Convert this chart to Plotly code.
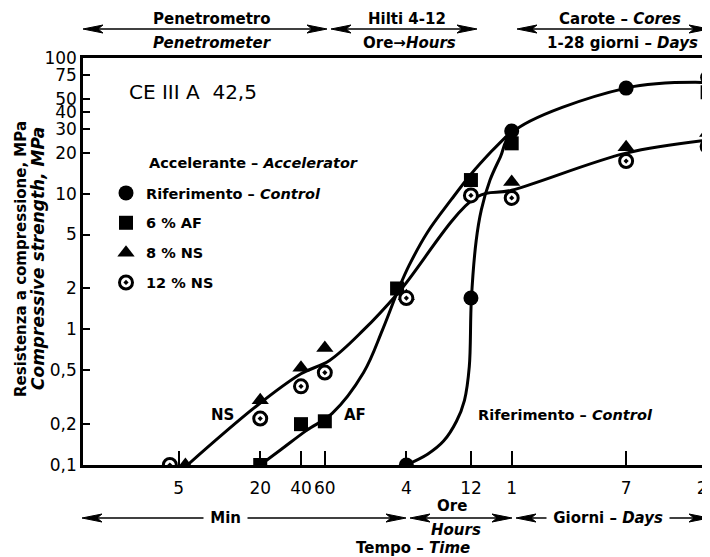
import plotly.graph_objects as go

# ---------------- data (time in minutes, strength in MPa) ----------------
tick_minutes = [5, 20, 40, 60, 240, 720, 1440, 10080, 40320]
tick_text = ["5", "20", "40", "60", "4", "12", "1", "7", "28"]
y_ticks = [0.1, 0.2, 0.5, 1, 2, 5, 10, 20, 30, 40, 50, 75, 100]
y_tick_text = ["0,1", "0,2", "0,5", "1", "2", "5", "10", "20", "30", "40", "50", "75", "100"]

ctrl_t = [240, 720, 1440, 10080, 40320]
ctrl_v = [0.1, 1.7, 29, 60, 72]
af_t = [20, 40, 60, 205, 720, 1440, 40320]
af_v = [0.1, 0.2, 0.21, 2.0, 12.6, 23.5, 56]
ns8_t = [5.6, 20, 40, 60, 240, 1440, 10080, 40320]
ns8_v = [0.1, 0.30, 0.52, 0.73, 1.75, 12.2, 22, 28]
ns12_t = [4.3, 20, 40, 60, 240, 720, 1440, 10080, 40320]
ns12_v = [0.1, 0.22, 0.38, 0.48, 1.7, 9.7, 9.3, 17.4, 22.3]

# fitted curves as drawn in the figure
ctrl_curve_t = [240, 344, 452, 563, 645, 700, 725, 787, 859, 996, 1189, 1440, 10080, 40320]
ctrl_curve_v = [0.1, 0.12, 0.15, 0.21, 0.30, 0.53, 1.65, 4.5, 7.6, 12.6, 18.7, 28, 60, 66]
af_curve_t = [20, 28.5, 44, 68, 116, 160, 211, 252, 344, 518, 720, 1026, 1440]
af_curve_v = [0.1, 0.13, 0.18, 0.24, 0.48, 0.99, 2.0, 2.97, 5.2, 9.1, 13.9, 20.6, 28.9]
ns_curve_t = [5.8, 18.6, 40, 65, 116, 211, 787, 1440, 10080, 40320]
ns_curve_v = [0.1, 0.27, 0.47, 0.59, 0.99, 1.88, 9.4, 10.6, 19.9, 24.8]

FONT = "DejaVu Sans"
OFF = 8                      # the page places the figure 8 px from the window corner
W, H = 710 - OFF, 557 - OFF
L, R, T, B = 83 - OFF, 0, 58 - OFF, 92
PW, PH = W - L - R, H - T - B


def PX(px):
    return (px - OFF - L) / PW


def PY(py):
    return (H - B - (py - OFF)) / PH


fig = go.Figure()

for ct, cv in [(ctrl_curve_t, ctrl_curve_v), (af_curve_t, af_curve_v), (ns_curve_t, ns_curve_v)]:
    fig.add_trace(go.Scatter(x=ct, y=cv, mode="lines", showlegend=False,
                             line=dict(color="black", width=3, shape="spline", smoothing=1.0),
                             hoverinfo="skip"))

fig.add_trace(go.Scatter(x=ctrl_t, y=ctrl_v, mode="markers", name="<b>Riferimento – <i>Control</i></b>",
                         legendgroup="a", marker=dict(symbol="circle", size=15, color="black")))
fig.add_trace(go.Scatter(x=af_t, y=af_v, mode="markers", name="<b>6 % AF</b>",
                         legendgroup="b", marker=dict(symbol="square", size=14, color="black")))
fig.add_trace(go.Scatter(x=ns8_t, y=ns8_v, mode="markers", name="<b>8 % NS</b>",
                         legendgroup="c", marker=dict(symbol="triangle-up", size=15, color="black")))
fig.add_trace(go.Scatter(x=ns12_t, y=ns12_v, mode="markers", name="<b>12 % NS</b>",
                         legendgroup="d", marker=dict(symbol="circle-dot", size=13, color="white",
                                                      line=dict(color="black", width=3))))

shapes = []
annotations = []


def text(px, py, s, size=15, xanchor="center", bold=True, bg=None, angle=0):
    if bold:
        s = "<b>" + s + "</b>"
    d = dict(x=PX(px), y=PY(py), xref="paper", yref="paper", text=s, showarrow=False,
             xanchor=xanchor, yanchor="middle", textangle=angle,
             font=dict(family=FONT, size=size, color="black"))
    if bg:
        d["bgcolor"] = bg
    annotations.append(d)


def head(tip, y, direction):
    # direction +1: head pointing left (body to the right), -1: pointing right
    Lh, hw = 20, 4
    path = (f"M {PX(tip)},{PY(y)} L {PX(tip + direction * Lh)},{PY(y - hw)} "
            f"L {PX(tip + direction * (Lh - 5))},{PY(y)} L {PX(tip + direction * Lh)},{PY(y + hw)} Z")
    shapes.append(dict(type="path", path=path, xref="paper", yref="paper",
                       fillcolor="black", line=dict(color="black", width=1)))


def double_arrow(x0, x1, y):
    shapes.append(dict(type="line", xref="paper", yref="paper", x0=PX(x0 + 5), x1=PX(x1 - 5),
                       y0=PY(y), y1=PY(y), line=dict(color="black", width=1.5)))
    head(x0, y, 1)
    head(x1, y, -1)


# top arrows
double_arrow(83, 327, 29)
double_arrow(331, 477, 29)
double_arrow(517, 709, 29)
text(212, 19, "Penetrometro")
text(212, 43, "<i>Penetrometer</i>")
text(407, 19, "Hilti 4-12")
text(410, 43, "Ore→<i>Hours</i>")
text(620, 19, "Carote – <i>Cores</i>")
text(622, 43, "1-28 giorni – <i>Days</i>")

# bottom arrows
double_arrow(82, 406, 518)
double_arrow(410, 512, 518)
double_arrow(516, 709, 518)
text(225, 518, " Min ", bg="white")
text(452, 506, "Ore")
text(456, 530, "<i>Hours</i>")
text(608, 518, " Giorni – <i>Days</i> ", bg="white")
text(413, 548, "Tempo – <i>Time</i>")

# y title
text(21, 259, "Resistenza a compressione, MPa", angle=-90)
text(38, 259, "<i>Compressive strength, MPa</i>", size=17, angle=-90)

# in-plot labels
text(127, 92, "CE III A\u00a0\u00a042,5", size=20, xanchor="left", bold=False)
text(147, 163, "Accelerante – <i>Accelerator</i>", size=14.5, xanchor="left")
text(222, 415, "NS")
text(355, 415, "AF")
text(565, 415, "Riferimento – <i>Control</i>", size=14.5)

fig.update_layout(
    width=W, height=H,
    margin=dict(l=L, r=R, t=T, b=B, autoexpand=False),
    paper_bgcolor="white", plot_bgcolor="white",
    font=dict(family=FONT, color="black"),
    shapes=shapes, annotations=annotations,
    legend=dict(x=PX(106), y=PY(177), xanchor="left", yanchor="top",
                font=dict(family=FONT, size=14.5, color="black"),
                tracegroupgap=8, bgcolor="rgba(0,0,0,0)"),
    xaxis=dict(type="log", range=[-0.008, 4.623], tickvals=tick_minutes, ticktext=tick_text,
               ticks="inside", ticklen=14, tickwidth=1.5, tickcolor="black",
               showline=True, linewidth=2.5, linecolor="black", mirror=True,
               showgrid=False, zeroline=False, ticklabelstandoff=6, automargin=False,
               ticklabeloverflow="allow",
               tickfont=dict(family=FONT, size=17, color="black")),
    yaxis=dict(type="log", range=[-1, 2], tickvals=y_ticks, ticktext=y_tick_text,
               ticks="inside", ticklen=7, tickwidth=1.5, tickcolor="black",
               showline=True, linewidth=2.5, linecolor="black", automargin=False,
               showgrid=False, zeroline=False,
               tickfont=dict(family=FONT, size=17, color="black")),
)

fig.write_html("out.html")
